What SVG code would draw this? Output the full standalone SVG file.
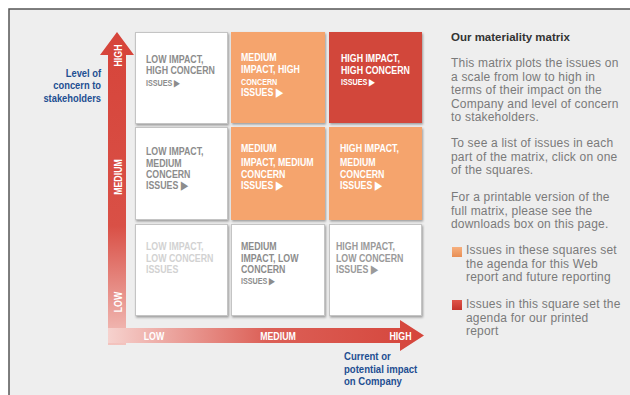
<svg xmlns="http://www.w3.org/2000/svg" width="630" height="395" viewBox="0 0 630 395">
<style>
.ct{font-family:"Liberation Sans",Arial,sans-serif;font-weight:bold;font-size:11px}
.sm{font-size:9px}
.g{fill:#8c8c8c}
.w{fill:#ffffff}
.ax{font-family:"Liberation Sans",Arial,sans-serif;font-weight:bold;font-size:11px;fill:#ffffff}
.bl{font-family:"Liberation Sans",Arial,sans-serif;font-weight:bold;font-size:11px;fill:#1e4f92}
.body{font-family:"Liberation Sans",Arial,sans-serif;font-size:12px;fill:#7a7a7a;letter-spacing:0.2px}
.title{font-family:"Liberation Sans",Arial,sans-serif;font-size:11.5px;font-weight:bold;fill:#333333}
.cw{fill:#ffffff;stroke:#c4c4c4;stroke-width:1}
.co{fill:#f5a46d}
.cr{fill:#d2463b}
</style>
<defs>
<filter id="sh" x="-10%" y="-10%" width="125%" height="125%">
<feDropShadow dx="1" dy="1.5" stdDeviation="1" flood-color="#000" flood-opacity="0.35"/>
</filter>
<linearGradient id="gv" x1="0" y1="0" x2="0" y2="1">
<stop offset="0" stop-color="#d6443a"/>
<stop offset="0.62" stop-color="#d95046"/>
<stop offset="1" stop-color="#f3c4bf"/>
</linearGradient>
<linearGradient id="gh" x1="0" y1="0" x2="1" y2="0">
<stop offset="0" stop-color="#f6d2ce"/>
<stop offset="0.5" stop-color="#dc6057"/>
<stop offset="1" stop-color="#d5453b"/>
</linearGradient>
<linearGradient id="go" x1="0" y1="0" x2="0" y2="1">
<stop offset="0" stop-color="#f7b07e"/>
<stop offset="1" stop-color="#e88e55"/>
</linearGradient>
<linearGradient id="gr" x1="0" y1="0" x2="0" y2="1">
<stop offset="0" stop-color="#e0554a"/>
<stop offset="1" stop-color="#c4342c"/>
</linearGradient>
</defs>

<rect x="0" y="0" width="630" height="395" fill="#ffffff"/>
<rect x="9" y="9" width="621" height="386" fill="#eeeeee"/>
<path d="M9,395 V9 H630" fill="none" stroke="#555555" stroke-width="1.5"/>

<g id="axes">
<path d="M108,345 V55 H100 L117,32 L134,55 H126 V345 Z" fill="url(#gv)"/>
<path d="M108,328 H400 V320 L424,335.5 L400,351 V343 H108 Z" fill="url(#gh)"/>
<text class="ax" transform="translate(121.5,55.5) rotate(-90) scale(0.8,1)" text-anchor="middle">HIGH</text>
<text class="ax" transform="translate(121.5,177) rotate(-90) scale(0.8,1)" text-anchor="middle">MEDIUM</text>
<text class="ax" transform="translate(121.5,302) rotate(-90) scale(0.8,1)" text-anchor="middle">LOW</text>
<text class="ax" transform="translate(154,339.5) scale(0.8,1)" text-anchor="middle">LOW</text>
<text class="ax" transform="translate(278,339.5) scale(0.8,1)" text-anchor="middle">MEDIUM</text>
<text class="ax" transform="translate(400.5,339.5) scale(0.8,1)" text-anchor="middle">HIGH</text>
</g>

<g id="y-title">
<text class="bl" text-anchor="end" transform="translate(101,76.5) scale(0.85,1)">Level of</text>
<text class="bl" text-anchor="end" transform="translate(101,89) scale(0.85,1)">concern to</text>
<text class="bl" text-anchor="end" transform="translate(101,101.5) scale(0.85,1)">stakeholders</text>
</g>
<g id="x-title">
<text class="bl" transform="translate(344,360) scale(0.87,1)">Current or</text>
<text class="bl" transform="translate(344,372.5) scale(0.87,1)">potential impact</text>
<text class="bl" transform="translate(344,385) scale(0.87,1)">on Company</text>
</g>

<g id="cell-low-high">
<rect class="cw" x="135.5" y="32.5" width="92" height="91" filter="url(#sh)"/>
<text class="ct g" transform="translate(146,63) scale(0.8,1)"><tspan x="0" y="0">LOW IMPACT,</tspan><tspan x="0" y="11.5">HIGH CONCERN</tspan><tspan x="0" y="23" class="sm">ISSUES ▶</tspan></text>
</g>
<g id="cell-medium-high">
<rect class="co" x="231" y="32" width="94" height="91" fill="url(#go)" filter="url(#sh)"/>
<text class="ct w" transform="translate(241,61) scale(0.8,1)"><tspan x="0" y="0">MEDIUM</tspan><tspan x="0" y="12.5">IMPACT, HIGH</tspan><tspan x="0" y="24" class="sm">CONCERN</tspan><tspan x="0" y="35.5">ISSUES ▶</tspan></text>
</g>
<g id="cell-high-high">
<rect class="cr" x="329" y="32" width="93" height="91" fill="url(#gr)" filter="url(#sh)"/>
<text class="ct w" transform="translate(341,62) scale(0.8,1)"><tspan x="0" y="0">HIGH IMPACT,</tspan><tspan x="0" y="12">HIGH CONCERN</tspan><tspan x="0" y="23" class="sm">ISSUES ▶</tspan></text>
</g>

<g id="cell-low-medium">
<rect class="cw" x="135.5" y="127.5" width="92" height="92" filter="url(#sh)"/>
<text class="ct g" transform="translate(146,155) scale(0.8,1)"><tspan x="0" y="0">LOW IMPACT,</tspan><tspan x="0" y="12">MEDIUM</tspan><tspan x="0" y="23">CONCERN</tspan><tspan x="0" y="34">ISSUES ▶</tspan></text>
</g>
<g id="cell-medium-medium">
<rect class="co" x="231" y="127" width="94" height="93" fill="url(#go)" filter="url(#sh)"/>
<text class="ct w" transform="translate(241,152) scale(0.8,1)"><tspan x="0" y="0">MEDIUM</tspan><tspan x="0" y="14">IMPACT, MEDIUM</tspan><tspan x="0" y="26">CONCERN</tspan><tspan x="0" y="37">ISSUES ▶</tspan></text>
</g>
<g id="cell-high-medium">
<rect class="co" x="329" y="127" width="93" height="93" fill="url(#go)" filter="url(#sh)"/>
<text class="ct w" transform="translate(340,152) scale(0.8,1)"><tspan x="0" y="0">HIGH IMPACT,</tspan><tspan x="0" y="14">MEDIUM</tspan><tspan x="0" y="26">CONCERN</tspan><tspan x="0" y="37">ISSUES ▶</tspan></text>
</g>

<g id="cell-low-low">
<rect class="cw" x="135.5" y="224.5" width="92" height="91" filter="url(#sh)"/>
<text class="ct" fill="#d2d2d2" transform="translate(146,250) scale(0.8,1)"><tspan x="0" y="0">LOW IMPACT,</tspan><tspan x="0" y="12">LOW CONCERN</tspan><tspan x="0" y="23">ISSUES</tspan></text>
</g>
<g id="cell-medium-low">
<rect class="cw" x="231.5" y="224.5" width="93" height="91" filter="url(#sh)"/>
<text class="ct g" transform="translate(241,250) scale(0.8,1)"><tspan x="0" y="0">MEDIUM</tspan><tspan x="0" y="12">IMPACT, LOW</tspan><tspan x="0" y="23">CONCERN</tspan><tspan x="0" y="34" class="sm">ISSUES ▶</tspan></text>
</g>
<g id="cell-high-low">
<rect class="cw" x="329.5" y="224.5" width="92" height="91" filter="url(#sh)"/>
<text class="ct" fill="#9a9a9a" transform="translate(336,250) scale(0.8,1)"><tspan x="0" y="0">HIGH IMPACT,</tspan><tspan x="0" y="12">LOW CONCERN</tspan><tspan x="0" y="23">ISSUES ▶</tspan></text>
</g>

<g id="panel">
<text class="title" x="451" y="41">Our materiality matrix</text>
<text class="body"><tspan x="451" y="67">This matrix plots the issues on</tspan><tspan x="451" y="80.5">a scale from low to high in</tspan><tspan x="451" y="94">terms of their impact on the</tspan><tspan x="451" y="107.5">Company and level of concern</tspan><tspan x="451" y="121">to stakeholders.</tspan></text>
<text class="body"><tspan x="451" y="147">To see a list of issues in each</tspan><tspan x="451" y="160.5">part of the matrix, click on one</tspan><tspan x="451" y="174">of the squares.</tspan></text>
<text class="body"><tspan x="451" y="201">For a printable version of the</tspan><tspan x="451" y="214.5">full matrix, please see the</tspan><tspan x="451" y="228">downloads box on this page.</tspan></text>
</g>
<g id="legend-orange">
<rect x="452" y="247" width="10" height="10" fill="url(#go)"/>
<text class="body"><tspan x="466" y="254">Issues in these squares set</tspan><tspan x="466" y="267.5">the agenda for this Web</tspan><tspan x="466" y="281">report and future reporting</tspan></text>
</g>
<g id="legend-red">
<rect x="452" y="300" width="10" height="10" fill="url(#gr)"/>
<text class="body"><tspan x="466" y="308">Issues in this square set the</tspan><tspan x="466" y="321.5">agenda for our printed</tspan><tspan x="466" y="335">report</tspan></text>
</g>
</svg>
